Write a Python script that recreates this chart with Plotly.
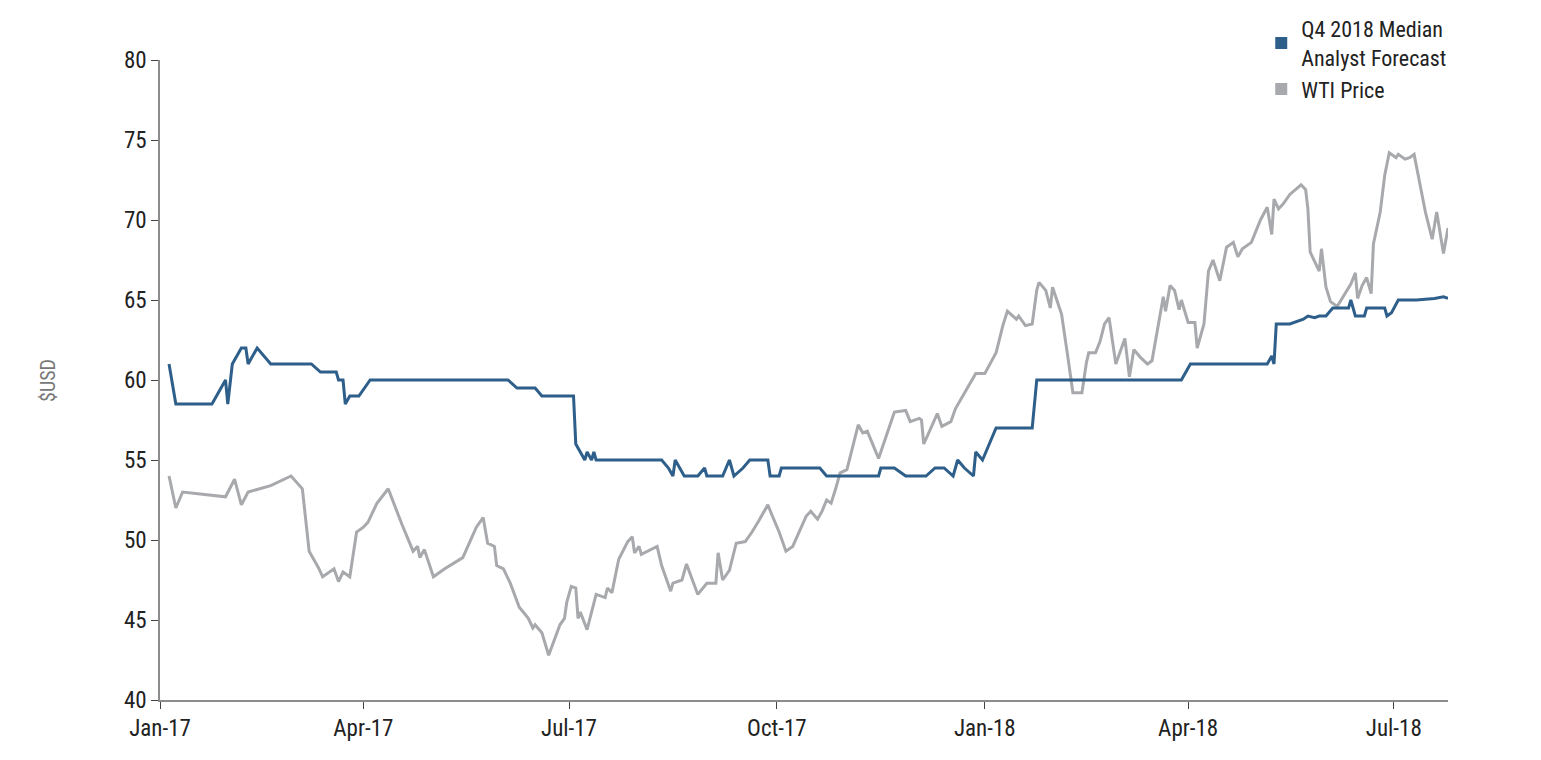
import pandas as pd
import plotly.graph_objects as go

START = pd.Timestamp("2017-01-01")

# days since 2017-01-01, value in USD
FC_DAYS = [4, 7, 23, 29, 30, 32, 36, 38, 39, 43, 49, 67, 71, 78, 79, 81, 82, 84, 88, 93,
           154, 158, 166, 169, 183, 184, 186, 188, 189, 191, 192, 193, 209, 222, 225, 227, 228,
           232, 238, 241, 242, 249, 252, 254, 258, 261, 269, 270, 274, 275, 292, 295, 318, 319,
           325, 330, 339, 343, 347, 351, 353, 356, 360, 361, 364, 370, 386, 388, 452, 456, 490,
           492, 493, 494, 500, 506, 508, 511, 513, 516, 519, 526, 527, 529, 533, 534, 542, 543,
           545, 548, 556, 564, 568, 570]
FC_VALS = [61, 58.5, 58.5, 60, 58.5, 61, 62, 62, 61, 62, 61, 61, 60.5, 60.5, 60, 60, 58.5, 59, 59, 60,
           60, 59.5, 59.5, 59, 59, 56, 55.5, 55, 55.5, 55, 55.5, 55, 55, 55, 54.5, 54, 55,
           54, 54, 54.5, 54, 54, 55, 54, 54.5, 55, 55, 54, 54, 54.5, 54.5, 54, 54, 54.5,
           54.5, 54, 54, 54.5, 54.5, 54, 55, 54.5, 54, 55.5, 55, 57, 57, 60, 60, 61, 61,
           61.5, 61, 63.5, 63.5, 63.8, 64, 63.9, 64, 64, 64.5, 64.5, 65, 64, 64, 64.5, 64.5, 64,
           64.2, 65, 65, 65.1, 65.2, 65.1]

WTI_DAYS = [4, 7, 10, 29, 33, 36, 39, 49, 58, 63, 66, 70, 72, 77, 79, 81, 84, 87, 90, 92, 96, 101,
            107, 112, 114, 115, 117, 121, 126, 134, 140, 143, 145, 148, 149, 152, 155, 159, 163,
            165, 166, 169, 172, 177, 179, 180, 182, 184, 185, 186, 189, 193, 197, 198, 200, 203,
            207, 209, 210, 212, 213, 220, 222, 226, 227, 231, 233, 238, 242, 246, 247, 249, 252,
            255, 259, 262, 265, 269, 271, 274, 277, 280, 286, 288, 291, 293, 295, 297, 299, 301,
            304, 306, 309, 311, 313, 318, 325, 330, 332, 336, 337, 338, 344, 346, 350, 352, 358,
            361, 365, 370, 373, 375, 379, 380, 383, 386, 388, 389, 392, 394, 395, 399, 402, 404,
            405, 408, 410, 411, 414, 416, 418, 420, 423, 427, 429, 431, 434, 437, 439, 443, 444,
            445, 447, 449, 451, 452, 455, 458, 459, 462, 464, 466, 469, 472, 475, 477, 479, 483,
            487, 490, 492, 493, 495, 497, 500, 505, 507, 508, 509, 511, 513, 514, 516, 518, 521,
            527, 529, 530, 532, 534, 536, 537, 540, 542, 544, 547, 548, 551, 553, 555, 560, 563,
            565, 568, 570]
WTI_VALS = [54, 52, 53, 52.7, 53.8, 52.2, 53, 53.4, 54, 53.2, 49.3, 48.3, 47.7, 48.2, 47.4, 48, 47.7,
            50.5, 50.8, 51.1, 52.3, 53.2, 51, 49.3, 49.6, 48.9, 49.4, 47.7, 48.2, 48.9, 50.8, 51.4,
            49.8, 49.6, 48.4, 48.2, 47.3, 45.8, 45.1, 44.5, 44.7, 44.2, 42.8, 44.7, 45.1, 46.1,
            47.1, 47, 45.1, 45.5, 44.4, 46.6, 46.4, 47, 46.7, 48.8, 49.9, 50.2, 49.2, 49.6, 49.1,
            49.6, 48.4, 46.8, 47.3, 47.5, 48.5, 46.6, 47.3, 47.3, 49.2, 47.5, 48.1, 49.8, 49.9,
            50.5, 51.2, 52.2, 51.5, 50.5, 49.3, 49.6, 51.5, 51.8, 51.3, 51.8, 52.5, 52.3, 53.2,
            54.2, 54.4, 55.5, 57.2, 56.7, 56.8, 55.1, 58, 58.1, 57.4, 57.6, 57.5, 56, 57.9, 57.1,
            57.4, 58.2, 59.7, 60.4, 60.4, 61.7, 63.4, 64.3, 63.8, 64, 63.4, 63.5, 65.6, 66.1, 65.6,
            64.5, 65.8, 64.1, 61.2, 59.2, 59.2, 59.2, 61.1, 61.7, 61.7, 62.4, 63.5, 63.9, 61, 62.6,
            60.2, 61.9, 61.4, 61, 61.2, 64.3, 65.2, 64.3, 65.9, 65.6, 64.4, 65, 63.6, 63.6, 62,
            63.5, 66.8, 67.5, 66.2, 68.3, 68.6, 67.7, 68.2, 68.6, 70, 70.8, 69.1, 71.3, 70.7, 71,
            71.6, 72.2, 71.9, 70.7, 68, 67.4, 66.8, 68.2, 65.8, 64.9, 64.6, 66, 66.7, 65.1, 65.9,
            66.4, 65.4, 68.5, 70.5, 72.8, 74.2, 73.9, 74.1, 73.8, 73.9, 74.1, 70.5, 68.8, 70.5,
            67.9, 69.5]

BLUE = "#2e5f8a"
GREY = "#a7a9ac"
FONT = "Roboto Condensed, Liberation Sans Narrow, Roboto, sans-serif"

fc_x = START + pd.to_timedelta(FC_DAYS, unit="D")
wti_x = START + pd.to_timedelta(WTI_DAYS, unit="D")

fig = go.Figure()
fig.add_trace(go.Scatter(x=wti_x, y=WTI_VALS, mode="lines", line=dict(color=GREY, width=3),
                         showlegend=False))
fig.add_trace(go.Scatter(x=fc_x, y=FC_VALS, mode="lines", line=dict(color=BLUE, width=3),
                         showlegend=False))
# legend entries with square swatches
fig.add_trace(go.Scatter(x=[None], y=[None], mode="markers", name="Q4 2018 Median<br>Analyst Forecast",
                         marker=dict(symbol="square", size=14, color=BLUE)))
fig.add_trace(go.Scatter(x=[None], y=[None], mode="markers", name="WTI Price",
                         marker=dict(symbol="square", size=14, color=GREY)))

fig.update_xaxes(range=[START, START + pd.Timedelta(days=570)], tickformat="%b-%y",
                 dtick="M3", tick0="2017-01-01", ticks="outside", ticklen=7,
                 showline=True, linecolor="#8c8c8c", linewidth=1.5, showgrid=False,
                 tickfont=dict(size=23, color="#222"))
fig.update_yaxes(range=[40, 80], dtick=5, ticks="outside", ticklen=7,
                 showline=True, linecolor="#8c8c8c", linewidth=1.5, showgrid=False, zeroline=False,
                 tickfont=dict(size=23, color="#222"))

fig.add_annotation(text="$USD", xref="paper", yref="paper", x=-0.087, y=0.5, textangle=-90,
                   showarrow=False, font=dict(size=20, color="#777"), xanchor="center", yanchor="middle")

fig.update_layout(
    width=1541, height=760,
    font=dict(family=FONT),
    plot_bgcolor="white", paper_bgcolor="white",
    margin=dict(l=152, r=101, t=52, b=68, autoexpand=False),
    legend=dict(x=0.855, xref="paper", y=1.0, yref="container", xanchor="left", yanchor="top",
                font=dict(size=22, color="#222"),
                tracegroupgap=0, itemsizing="constant", bgcolor="rgba(0,0,0,0)"),
)

fig.write_html("out.html")
